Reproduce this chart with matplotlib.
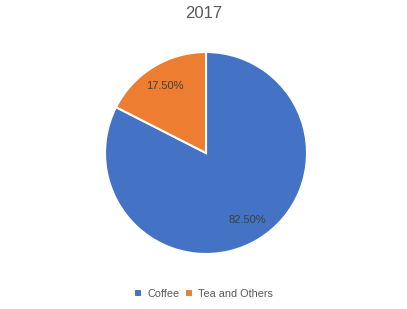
import matplotlib.pyplot as plt

# Daten
labels = ['Coffee', 'Tea and Others']
shares = [82.5, 17.5]
colors = ['#4472C4', '#ED7D31']
title = '2017'

plt.rcParams['font.family'] = ['Liberation Sans', 'DejaVu Sans']

fig = plt.figure(figsize=(4.07, 3.09), dpi=100)
W, H = 407, 309
cx, cy, r = 206, 153, 101
ax = fig.add_axes([(cx - r) / W, (H - cy - r) / H, 2 * r / W, 2 * r / H])

wedges, texts, autotexts = ax.pie(
    shares, colors=colors, startangle=90, counterclock=False,
    autopct='%.2f%%', pctdistance=0.78,
    wedgeprops=dict(edgecolor='white', linewidth=1.5),
    textprops=dict(color='#404040', fontsize=8))
ax.set_xlim(-1, 1)
ax.set_ylim(-1, 1)
ax.set_aspect('equal')

fig.text(0.5, 1 - 13 / H, title, ha='center', va='center', fontsize=12, color='#595959')

fig.legend(wedges, labels, loc='center', bbox_to_anchor=(0.5, 1 - 294 / H),
           ncol=2, frameon=False, fontsize=7.8, handlelength=0.8, handleheight=0.8,
           handletextpad=0.45, columnspacing=0.5, labelcolor='#595959')

fig.savefig('out.png', dpi=100)
